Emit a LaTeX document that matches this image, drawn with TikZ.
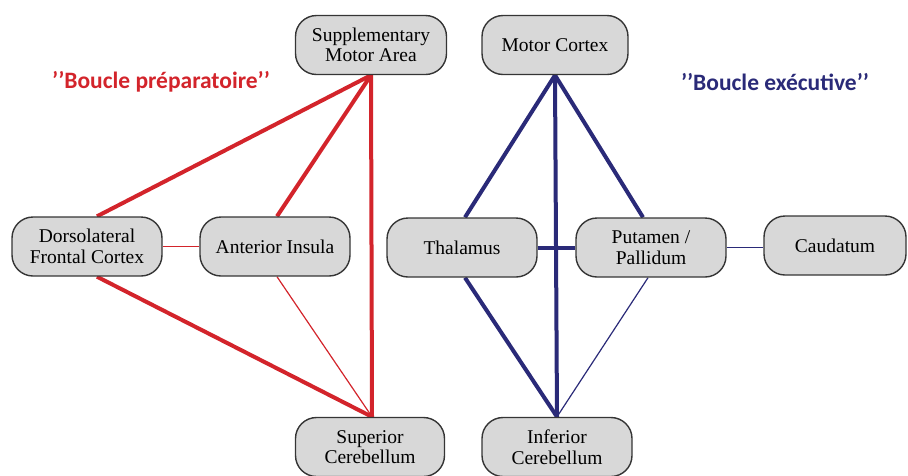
\documentclass[tikz,border=0pt]{standalone}
\usepackage{fontspec}
\newfontfamily\regionfont{Liberation Serif}
\newfontfamily\labelfont{Carlito}
\usetikzlibrary{backgrounds}
\definecolor{boxfill}{HTML}{D8D8D8}
\definecolor{boxline}{HTML}{353535}
\definecolor{prepred}{HTML}{D3242B}
\definecolor{execblue}{HTML}{2A2A78}
\tikzset{
  region/.style={draw=boxline, line width=1.4pt, fill=boxfill, rounded corners=21pt,
    minimum height=59pt, align=center, font=\regionfont\fontsize{19.5}{20.5}\selectfont, inner sep=2pt},
  redthick/.style={draw=prepred, line width=4pt},
  redthin/.style={draw=prepred, line width=1.2pt},
  bluethick/.style={draw=execblue, line width=4pt},
  bluethin/.style={draw=execblue, line width=1.2pt},
  looplabel/.style={font=\labelfont\bfseries\fontsize{23.5}{26}\selectfont, anchor=center},
}
\begin{document}
\begin{tikzpicture}[x=1pt,y=-1pt]
  \useasboundingbox (0,0) rectangle (908,475);

  % preparatory loop regions
  \node[region, minimum width=151pt] (sma) at (371,45) {Supplementary\\Motor Area};
  \node[region, minimum width=150pt] (dfc) at (87,246.5) {Dorsolateral\\Frontal Cortex};
  \node[region, minimum width=150pt] (ai)  at (275,246.5) {Anterior Insula};
  \node[region, minimum width=149pt] (sc)  at (370,447) {Superior\\Cerebellum};

  % executive loop regions
  \node[region, minimum width=146pt] (mc)  at (555,45) {Motor Cortex};
  \node[region, minimum width=150pt] (th)  at (462,247.5) {Thalamus};
  \node[region, minimum width=150pt] (pp)  at (651,247.5) {Putamen /\\Pallidum};
  \node[region, minimum width=142pt] (cd)  at (835,245.5) {Caudatum};
  \node[region, minimum width=150pt] (ic)  at (557,447) {Inferior\\Cerebellum};

  % convergence points on the box edges
  \coordinate (smaP) at (sma.south);
  \coordinate (scP)  at ([xshift=2pt]sc.north);
  \coordinate (mcP)  at (mc.south);
  \coordinate (icP)  at (ic.north);

  \node[looplabel, text=prepred]  (lprep) at (161,82) {’’Boucle préparatoire’’};
  \node[looplabel, text=execblue] (lexec) at (775,82) {’’Boucle exécutive’’};

  \begin{scope}[on background layer]
    % preparatory loop connections
    \draw[redthick] (smaP) -- ([xshift=10pt]dfc.north);
    \draw[redthick] (smaP) -- ([xshift=2pt]ai.north);
    \draw[redthick] (smaP) -- (scP);
    \draw[redthick] ([xshift=10pt]dfc.south) -- (scP);
    \draw[redthin]  ([xshift=2pt]ai.south) -- (scP);
    \draw[redthin]  (dfc.east) -- (ai.west);

    % executive loop connections
    \draw[bluethick] (mcP) -- ([xshift=3pt]th.north);
    \draw[bluethick] (mcP) -- ([xshift=-8pt]pp.north);
    \draw[bluethick] (mcP) -- (icP);
    \draw[bluethick] (th.east) -- (pp.west);
    \draw[bluethick] ([xshift=3pt]th.south) -- (icP);
    \draw[bluethin]  ([xshift=-3pt]pp.south) -- (icP);
    \draw[bluethin]  (pp.east) -- (cd.west |- pp.east);
  \end{scope}
\end{tikzpicture}
\end{document}
